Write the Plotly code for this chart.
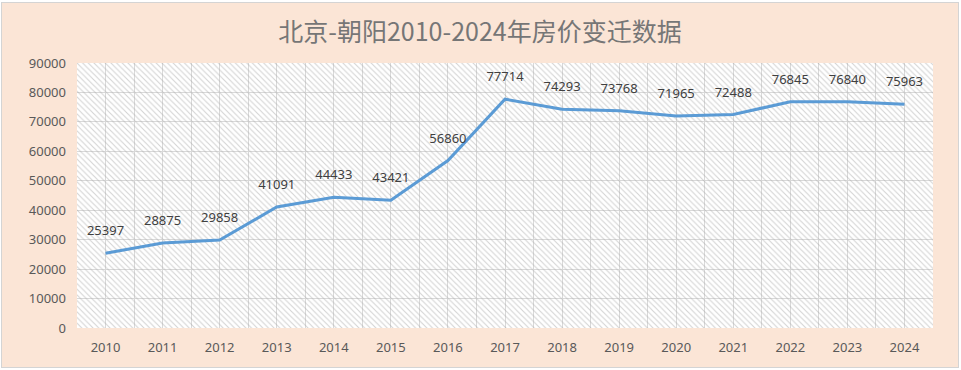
import plotly.graph_objects as go

years = ["2010", "2011", "2012", "2013", "2014", "2015", "2016", "2017",
         "2018", "2019", "2020", "2021", "2022", "2023", "2024"]
prices = [25397, 28875, 29858, 41091, 44433, 43421, 56860, 77714,
          74293, 73768, 71965, 72488, 76845, 76840, 75963]
y_ticks = [0, 10000, 20000, 30000, 40000, 50000, 60000, 70000, 80000, 90000]
title_text = "北京-朝阳2010-2024年房价变迁数据"

xpos = list(range(len(years)))

fig = go.Figure()

# hatched plot-area background on a unit helper axis
fig.add_trace(go.Scatter(
    x=[0, 1, 1, 0, 0], y=[0, 0, 1, 1, 0],
    xaxis="x", yaxis="y",
    mode="none", fill="toself",
    fillcolor="rgba(0,0,0,0)",
    fillpattern=dict(shape="\\", fgcolor="#a8a8a8", bgcolor="rgba(0,0,0,0)",
                     size=4, solidity=0.28),
    hoverinfo="skip", showlegend=False,
))

fig.add_trace(go.Scatter(
    x=xpos, y=prices,
    xaxis="x2", yaxis="y2",
    mode="lines+markers+text",
    line=dict(color="#5B9BD5", width=3),
    marker=dict(size=22, color="rgba(0,0,0,0)"),
    text=[str(v) for v in prices],
    textposition="top center",
    textfont=dict(family="Noto Sans", size=13, color="#404040"),
    showlegend=False,
))

fig.update_layout(
    width=956, height=364,
    margin=dict(l=75, r=25, t=60, b=39),
    paper_bgcolor="#FBE5D6",
    plot_bgcolor="#FFFFFF",
    title=dict(text=title_text, x=0.5, xanchor="center", y=0.92, yanchor="middle",
               font=dict(family="Noto Sans CJK SC", size=25, color="#767676")),
    xaxis=dict(range=[0, 1], visible=False, fixedrange=True),
    yaxis=dict(range=[0, 1], visible=False, fixedrange=True),
    xaxis2=dict(
        overlaying="x", anchor="y2", side="bottom",
        range=[-0.5, len(years) - 0.5],
        tickvals=xpos, ticktext=years,
        showgrid=True, gridcolor="#D9D9D9", gridwidth=1,
        minor=dict(dtick=0.5, tick0=0.5, showgrid=True, gridcolor="#D9D9D9", gridwidth=1),
        ticks="", showline=False, zeroline=False,
        tickfont=dict(family="Noto Sans", size=13, color="#595959"),
        ticklabelstandoff=10,
    ),
    yaxis2=dict(
        overlaying="y", anchor="x2", side="left",
        range=[0, 90000], tickvals=y_ticks,
        ticktext=[str(v) for v in y_ticks],
        showgrid=True, gridcolor="#D9D9D9", gridwidth=1,
        ticks="", showline=False, zeroline=False,
        tickfont=dict(family="Noto Sans", size=13, color="#595959"),
        ticklabelstandoff=10,
    ),
)

post = (
    "document.body.style.margin='0';"
    "document.body.style.padding='3px 0 0 2px';"
    "document.body.style.background='#ffffff';"
    "var d=document.querySelector('.plotly-graph-div');"
    "if(d){d.style.outline='1px solid #d4d4d4';}"
)

fig.write_html("out.html", post_script=post)
